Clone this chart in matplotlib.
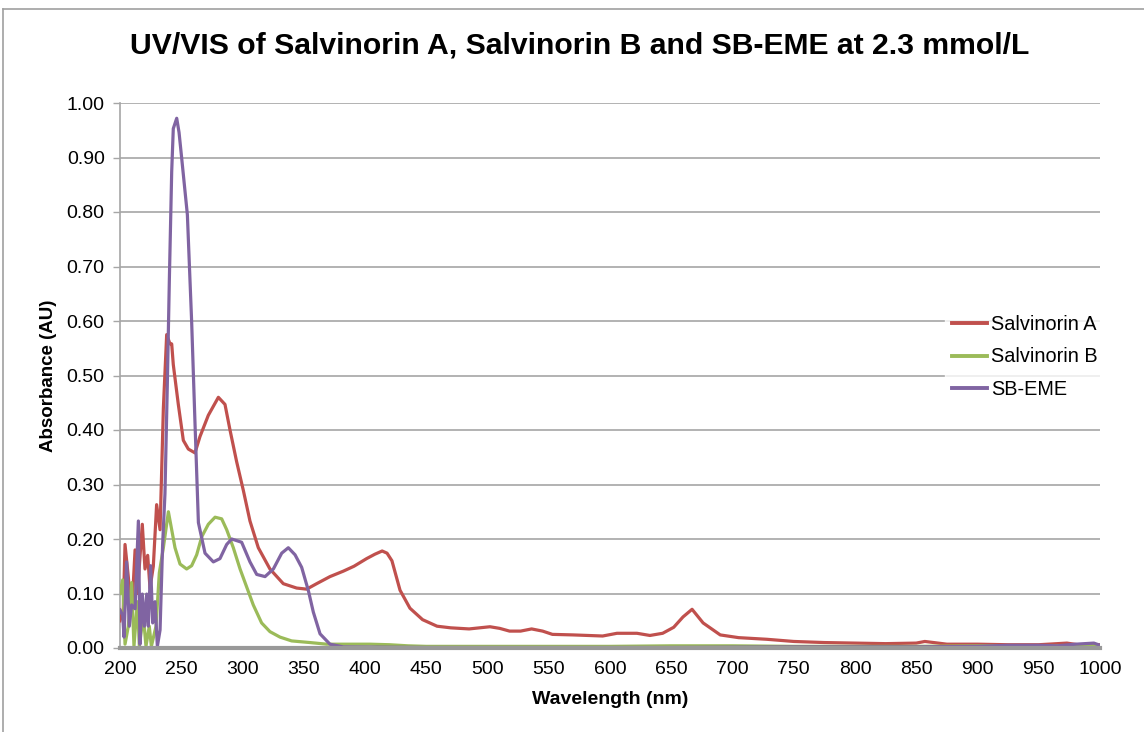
import matplotlib
matplotlib.use("Agg")
import matplotlib.pyplot as plt
from matplotlib.lines import Line2D

plt.rcParams['font.family'] = ['Liberation Sans', 'DejaVu Sans']

title = "UV/VIS of Salvinorin A, Salvinorin B and SB-EME at 2.3 mmol/L"
xlabel = "Wavelength (nm)"
ylabel = "Absorbance (AU)"
series_names = ["Salvinorin A", "Salvinorin B", "SB-EME"]
xticks = list(range(200, 1001, 50))
yticks = [i / 10 for i in range(0, 11)]

# Salvinorin A (red)
sa_nm = [200, 202.7, 204.1, 206.8, 209.5, 212.3, 214.2, 218.2, 220.4, 222.6, 224.5,
         227.2, 229.9, 232.7, 235.4, 238.1, 240.8, 242.2, 243.5, 247.6, 251.7, 255.8,
         261.2, 265.3, 272.1, 280.3, 285.7, 289.8, 295.2, 300.7, 306.1, 312.9, 322.4,
         333.3, 344.2, 352.4, 360.5, 371.4, 382.3, 391, 401.3, 408, 414, 418, 422,
         428.6, 436.7, 447, 458.8, 470, 485, 502, 510, 518, 527, 536, 545, 553, 570,
         594, 605.7, 622, 632.6, 643, 652, 659.6, 667, 676, 690, 705, 728, 750, 775,
         800, 825, 850, 857, 875, 900, 925, 950, 973, 985, 1000]
sa_val = [0.05, 0.072, 0.19, 0.13, 0.06, 0.18, 0.10, 0.227, 0.145, 0.17, 0.11,
          0.15, 0.263, 0.217, 0.44, 0.575, 0.558, 0.558, 0.52, 0.447, 0.381, 0.365,
          0.358, 0.388, 0.427, 0.46, 0.447, 0.40, 0.342, 0.289, 0.233, 0.184, 0.145,
          0.118, 0.11, 0.108, 0.118, 0.131, 0.141, 0.15, 0.164, 0.172, 0.178, 0.174, 0.16,
          0.106, 0.073, 0.052, 0.04, 0.037, 0.035, 0.039, 0.036, 0.031, 0.031, 0.035, 0.031, 0.025, 0.024,
          0.022, 0.027, 0.027, 0.023, 0.027, 0.038, 0.057, 0.071, 0.046, 0.024, 0.019, 0.016, 0.012, 0.01,
          0.009, 0.008, 0.009, 0.012, 0.007, 0.007, 0.006, 0.006, 0.009, 0.005, 0.006]

# Salvinorin B (green)
sb_nm = [200, 202.2, 204.1, 206.8, 209.5, 211.4, 214.2, 215.8, 219.0, 221.2, 223.9,
         225.6, 229.4, 232.1, 235.4, 239.5, 242.2, 244.9, 249.0, 254.4, 258.5, 262.6,
         266.7, 272.1, 277.6, 283.0, 287.1, 292.5, 298.0, 303.4, 308.8, 315.6, 322.4,
         330.6, 340.1, 355.1, 368.7, 404, 420, 435, 450, 500, 600, 650, 700, 750, 800,
         850, 900, 950, 1000]
sb_val = [0.10, 0.125, 0.007, 0.04, 0.12, 0.003, 0.085, 0.003, 0.06, 0.003, 0.04,
          0.003, 0.04, 0.138, 0.184, 0.25, 0.217, 0.184, 0.154, 0.145, 0.151, 0.171,
          0.204, 0.227, 0.24, 0.237, 0.217, 0.184, 0.145, 0.112, 0.079, 0.046, 0.03,
          0.02, 0.013, 0.01, 0.007, 0.007, 0.006, 0.004, 0.003, 0.003, 0.003, 0.004, 0.004, 0.003, 0.003,
          0.003, 0.004, 0.004, 0.004]

# SB-EME (purple)
se_nm = [200, 202.2, 203.3, 205.4, 207.6, 209.5, 212.3, 215.0, 216.3, 218.2, 219.9,
         221.8, 223.1, 225.0, 226.7, 228.6, 230.5, 232.7, 234.8, 236.7, 238.6, 240.3,
         242.2, 243.5, 246.3, 248.2, 250.3, 255.0, 258.5, 261.2, 264.0, 269.4, 276.2,
         281.6, 287.1, 291.2, 299.3, 306.1, 311.6, 318.4, 325.2, 332.0, 337.4, 342.9,
         348.3, 353.8, 357.8, 363.3, 371.4, 382.3, 450, 550, 650, 750, 850, 900, 925,
         950, 965, 980, 995, 1000]
se_val = [0.07, 0.06, 0.02, 0.158, 0.04, 0.079, 0.072, 0.233, 0.007, 0.099, 0.04,
          0.099, 0.04, 0.151, 0.046, 0.085, 0.003, 0.033, 0.19, 0.283, 0.48, 0.677,
          0.874, 0.953, 0.972, 0.946, 0.90, 0.795, 0.598, 0.414, 0.23, 0.174, 0.158,
          0.164, 0.19, 0.20, 0.194, 0.158, 0.135, 0.131, 0.145, 0.174, 0.184, 0.171,
          0.148, 0.105, 0.066, 0.026, 0.007, 0.002, 0.001, 0.001, 0.001, 0.002, 0.002, 0.003, 0.005,
          0.005, 0.004, 0.007, 0.009, 0.005]

colors = ["#c0504d", "#9bbb59", "#8064a2"]
grid_c = "#a6a6a6"

fig = plt.figure(figsize=(11.44, 7.32), dpi=100)
ax = fig.add_axes([120 / 1144, 1 - 648 / 732, 980 / 1144, 545 / 732])

lw = 2.3
ax.plot(sa_nm, sa_val, color=colors[0], lw=lw, label=series_names[0], zorder=3)
ax.plot(sb_nm, sb_val, color=colors[1], lw=lw, label=series_names[1], zorder=3)
ax.plot(se_nm, se_val, color=colors[2], lw=lw, label=series_names[2], zorder=4)

ax.set_xlim(200, 1000)
ax.set_ylim(0, 1.0)
ax.set_xticks(xticks)
ax.set_yticks(yticks)
ax.set_yticklabels([f"{v:.2f}" for v in yticks])
ax.tick_params(axis='both', labelsize=14, colors='black')
ax.tick_params(axis='y', direction='out', length=5, width=1, color=grid_c, pad=6)
ax.tick_params(axis='x', length=0, pad=9)
ax.grid(axis='y', color=grid_c, lw=1.2)
ax.set_axisbelow(True)
for s in ['top', 'right']:
    ax.spines[s].set_visible(False)
ax.spines['left'].set_color(grid_c)
ax.spines['left'].set_linewidth(1.2)
ax.spines['bottom'].set_color("#999999")
ax.spines['bottom'].set_linewidth(3)
ax.spines['bottom'].set_zorder(5)

ax.set_xlabel(xlabel, fontsize=14, fontweight='bold', labelpad=10)
ax.set_ylabel(ylabel, fontsize=13.5, fontweight='bold', labelpad=7)

fig.text(580 / 1144, 1 - 46 / 732, title, ha='center', va='center', fontsize=21.7, fontweight='bold')

handles = [Line2D([], [], color=c, lw=2.8) for c in colors]
leg = fig.legend(handles, series_names, loc='center left',
                 bbox_to_anchor=(945 / 1144, 1 - 357 / 732), fontsize=14.3,
                 frameon=True, fancybox=False, handlelength=1.75, handletextpad=0.2,
                 labelspacing=0.7, borderpad=0.35, borderaxespad=0)
leg.get_frame().set_facecolor('white')
leg.get_frame().set_edgecolor('white')

# outer chart frame
fig.add_artist(Line2D([3 / 1144, 3 / 1144], [0, 1 - 9 / 732], transform=fig.transFigure, color="#a0a0a0", lw=1.2))
fig.add_artist(Line2D([3 / 1144, 1], [1 - 9 / 732, 1 - 9 / 732], transform=fig.transFigure, color="#a0a0a0", lw=1.2))

fig.savefig("out.png", dpi=100)
